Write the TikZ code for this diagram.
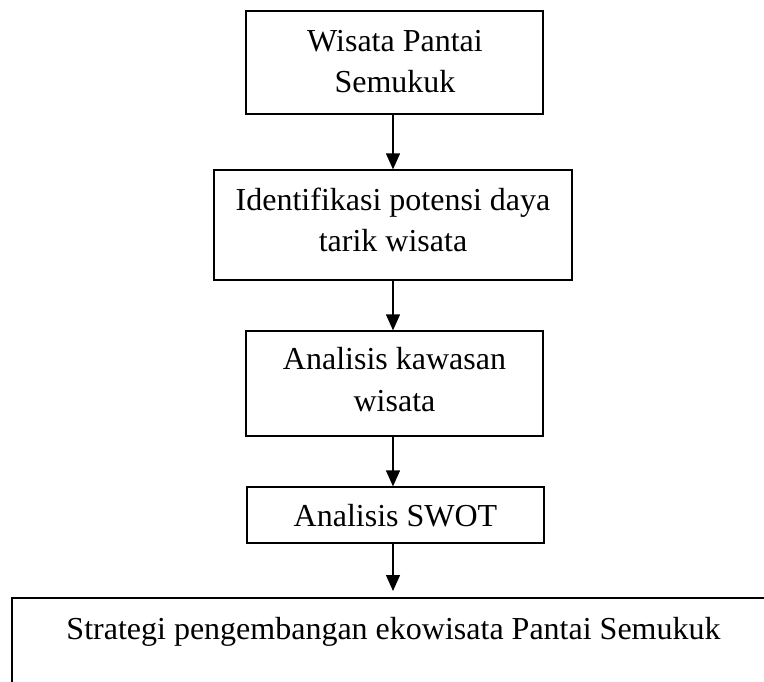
\documentclass[tikz,border=0pt]{standalone}
\usepackage{fontspec}
\setmainfont{Liberation Serif}
\usetikzlibrary{arrows.meta}
\begin{document}
\begin{tikzpicture}[x=1pt,y=-1pt,
  box/.style={draw,line width=1.3pt,inner sep=0pt},
  txt/.style={font=\fontsize{32}{41.5}\selectfont,align=center,inner sep=0pt,anchor=base},
  arr/.style={line width=1.3pt,-{Triangle[width=14pt,length=16pt]}}]
\useasboundingbox (0,0) rectangle (764,681);
\node[box,minimum width=297pt,minimum height=103pt] (b1) at (394.5,62.5) {};
\node[txt] (t1) at (395,92.7) {Wisata Pantai\\Semukuk};
\node[box,minimum width=358pt,minimum height=110pt] (b2) at (393,225) {};
\node[txt] (t2) at (393,251.5) {Identifikasi potensi daya\\tarik wisata};
\node[box,minimum width=297pt,minimum height=105pt] (b3) at (394.5,383.5) {};
\node[txt] (t3) at (394.5,411) {Analisis kawasan\\wisata};
\node[box,minimum width=297pt,minimum height=56pt] (b4) at (395.5,515) {};
\node[txt] (t4) at (395.5,526.7) {Analisis SWOT};
\coordinate (c5) at (12,598);
\coordinate (c5r) at (770,598);
\coordinate (c5b) at (12,690);
\draw[line width=1.3pt] (c5r) -- (c5) -- (c5b);
\node[txt] (t5) at (393.5,639) {Strategi pengembangan ekowisata Pantai Semukuk};
\draw[arr] (b1.south -| b2.north) -- (b2.north);
\draw[arr] (b2.south) -- (b2.south |- b3.north);
\draw[arr] (b3.south -| b2.south) -- (b4.north -| b2.south);
\draw[arr,shorten >=7pt] (b4.south -| b2.south) -- (c5 -| b2.south);
\end{tikzpicture}
\end{document}
